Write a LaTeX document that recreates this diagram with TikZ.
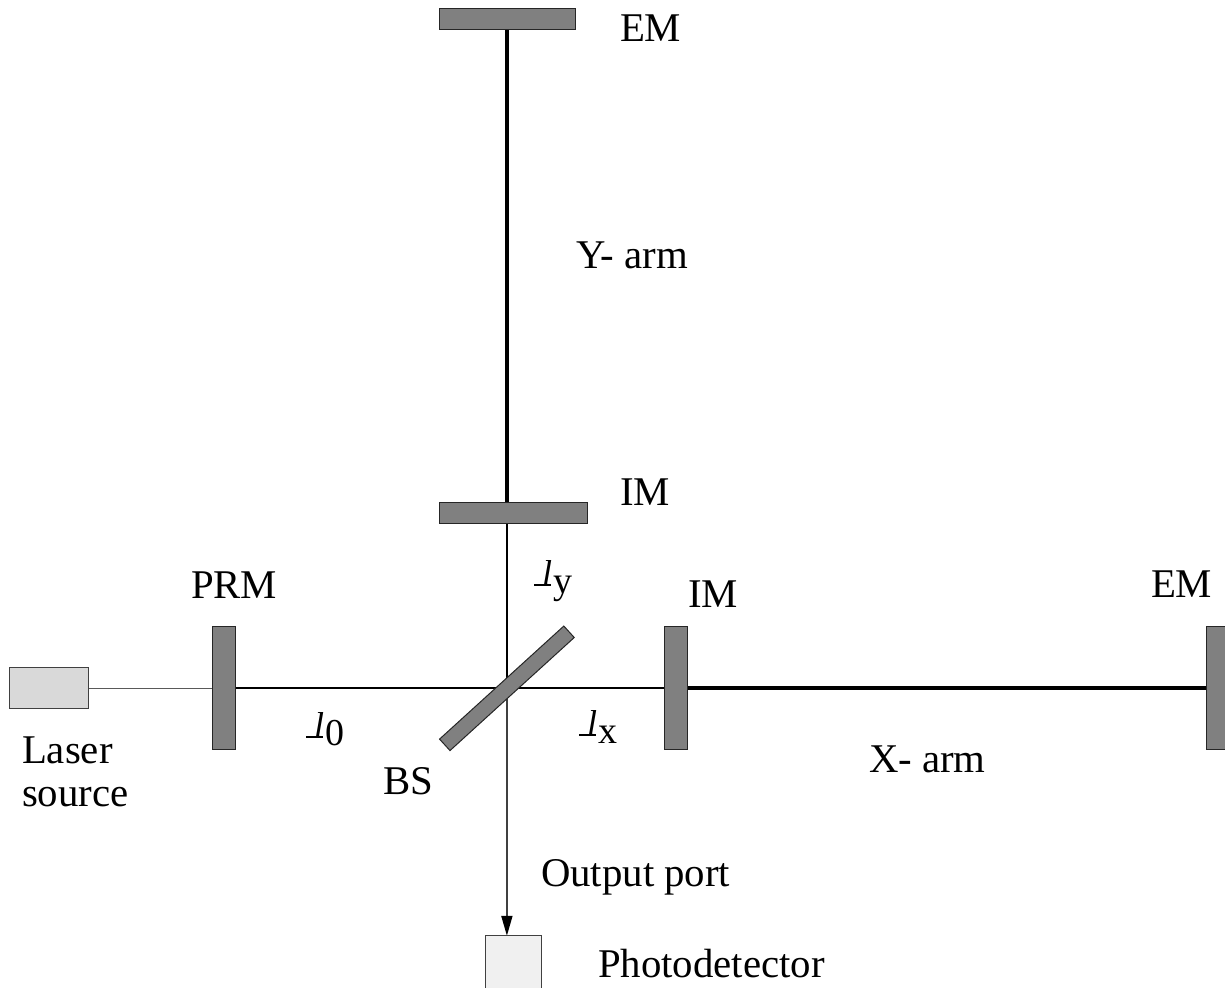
\documentclass[tikz,border=0pt]{standalone}
\usepackage{fontspec}
\setmainfont{Liberation Serif}
\usetikzlibrary{arrows.meta}
\pgfdeclarelayer{beams}
\pgfsetlayers{beams,main}
\newcommand{\lsym}[1]{\makebox[19pt][l]{\rlap{\rule[-0.5pt]{17pt}{1.5pt}}\hspace{8pt}{\fontsize{36}{38}\selectfont\textit{l}}}\raisebox{-0.22em}{\fontsize{38}{40}\selectfont #1}}
\tikzset{
  x=1pt,y=-1pt,
  mirror/.style={draw=black!85,line width=1pt,fill=black!50,inner sep=0pt,outer sep=0pt},
  device/.style={draw=black!75,line width=1pt,inner sep=0pt,outer sep=0pt},
  beam/.style={line width=2pt,black},
  armbeam/.style={line width=4pt,black},
  lead/.style={line width=1.5pt,black!65},
  outlead/.style={line width=1.8pt,black!75},
  label/.style={anchor=base west,inner sep=0pt,outer sep=0pt,font=\fontsize{40.8}{44}\selectfont}
}
\begin{document}
\begin{tikzpicture}
\clip (0,0) rectangle (1225,987);
% mirrors and devices
\node[mirror,minimum width=136pt,minimum height=21pt] (emy) at (507.2,19.3) {};
\node[mirror,minimum width=148pt,minimum height=21pt] (imy) at (513.2,513.3) {};
\node[mirror,minimum width=23pt,minimum height=123pt] (prm) at (224.4,688.3) {};
\node[mirror,minimum width=23pt,minimum height=123pt] (imx) at (676.4,688.3) {};
\node[mirror,minimum width=23pt,minimum height=123pt] (emx) at (1218.4,688.3) {};
\node[mirror,minimum width=168pt,minimum height=15.5pt,rotate=42.3] (bs) at (506.9,688.3) {};
\node[device,fill=black!15,minimum width=79pt,minimum height=41pt] (laser) at (49.4,688.3) {};
\node[device,fill=black!6,minimum width=56pt,minimum height=70pt] (pd) at (513.2,970.8) {};
% beams
\begin{pgfonlayer}{beams}
\draw[lead] (laser) -- (prm);
\draw[beam] (prm) -- (bs.center);
\draw[beam] (bs.center) -- (imx);
\draw[armbeam] (imx) -- (emx);
\draw[beam] (bs.center) -- (bs.center |- imy.south);
\draw[armbeam] (bs.center |- imy.north) -- (bs.center |- emy.south);
\draw[outlead,-{Triangle[length=20pt,width=11pt,color=black]}] (bs.center) -- (bs.center |- pd.north);
\end{pgfonlayer}
% labels
\node[label] (t1) at (620,42) {EM};
\node[label] (t2) at (576,268) {Y- arm};
\node[label] (t3) at (620,505) {IM};
\node[label] (t4) at (191,598) {PRM};
\node[label] (t5) at (688,607) {IM};
\node[label] (t6) at (1151,597) {EM};
\node[label] (t7) at (22,763) {Laser};
\node[label] (t8) at (22,806) {source};
\node[label] (t9) at (383,794) {BS};
\node[label] (t10) at (869,772) {X- arm};
\node[label] (t11) at (541,886) {Output port};
\node[label] (t12) at (598,977) {Photodetector};
\node[label] (t13) at (534,585) {\lsym{y}};
\node[label] (t14) at (306,737) {\lsym{0}};
\node[label] (t15) at (579,735) {\lsym{x}};
\end{tikzpicture}
\end{document}
